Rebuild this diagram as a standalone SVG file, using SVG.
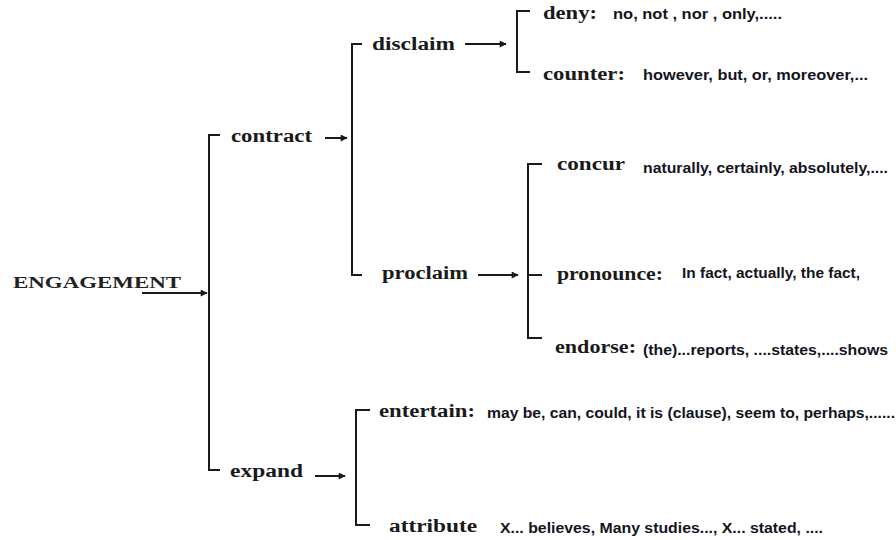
<svg xmlns="http://www.w3.org/2000/svg" width="896" height="540" viewBox="0 0 896 540">
<style>
.bg{fill:#fff}
.ln{fill:none;stroke:#1a1a1a;stroke-width:2}
.sf{font-family:"Liberation Serif","Times New Roman",serif;font-weight:bold;font-size:18px;fill:#1a1a1a}
.sfr{font-family:"Liberation Serif","Times New Roman",serif;font-weight:bold;font-size:17px;fill:#222}
.ss{font-family:"Liberation Sans",Arial,sans-serif;font-weight:bold;font-size:15px;fill:#14141e}
</style>
<defs>
<marker id="ah" viewBox="0 0 10 10" refX="9" refY="5" markerWidth="9" markerHeight="7" markerUnits="userSpaceOnUse" orient="auto">
<path d="M0,0 L10,5 L0,10 Z" fill="#1a1a1a"/>
</marker>
</defs>
<rect class="bg" width="896" height="540"/>
<g id="connectors">
<path class="ln" d="M142,293 H207" marker-end="url(#ah)"/>
<path class="ln" d="M220,135 H209 V470 H220"/>
<path class="ln" d="M325,138 H347" marker-end="url(#ah)"/>
<path class="ln" d="M362,44 H352 V275 H362"/>
<path class="ln" d="M465,44 H506" marker-end="url(#ah)"/>
<path class="ln" d="M530,11 H517 V72 H530"/>
<path class="ln" d="M478,275 H518" marker-end="url(#ah)"/>
<path class="ln" d="M542,164 H528 V338 H542 M528,275 H542"/>
<path class="ln" d="M315,476 H345" marker-end="url(#ah)"/>
<path class="ln" d="M370,410 H356 V525 H370"/>
</g>
<g id="engagement"><text class="sfr" x="13" y="288" textLength="168" lengthAdjust="spacingAndGlyphs">ENGAGEMENT</text></g>
<g id="contract"><text class="sf" x="231" y="142" textLength="81" lengthAdjust="spacingAndGlyphs">contract</text></g>
<g id="expand"><text class="sf" x="230" y="477" textLength="73" lengthAdjust="spacingAndGlyphs">expand</text></g>
<g id="disclaim"><text class="sf" x="372" y="50" textLength="83" lengthAdjust="spacingAndGlyphs">disclaim</text></g>
<g id="proclaim"><text class="sf" x="382" y="279" textLength="86" lengthAdjust="spacingAndGlyphs">proclaim</text></g>
<g id="deny">
<text class="sf" x="543" y="19" textLength="54" lengthAdjust="spacingAndGlyphs">deny:</text>
<text class="ss" x="613" y="19" textLength="169" lengthAdjust="spacingAndGlyphs">no, not , nor , only,.....</text>
</g>
<g id="counter">
<text class="sf" x="543" y="80" textLength="82" lengthAdjust="spacingAndGlyphs">counter:</text>
<text class="ss" x="643" y="80" textLength="225" lengthAdjust="spacingAndGlyphs">however, but, or, moreover,...</text>
</g>
<g id="concur">
<text class="sf" x="557" y="170" textLength="68" lengthAdjust="spacingAndGlyphs">concur</text>
<text class="ss" x="643" y="173" textLength="245" lengthAdjust="spacingAndGlyphs">naturally, certainly, absolutely,....</text>
</g>
<g id="pronounce">
<text class="sf" x="557" y="280" textLength="106" lengthAdjust="spacingAndGlyphs">pronounce:</text>
<text class="ss" x="682" y="278" textLength="178" lengthAdjust="spacingAndGlyphs">In fact, actually, the fact,</text>
</g>
<g id="endorse">
<text class="sf" x="555" y="353" textLength="81" lengthAdjust="spacingAndGlyphs">endorse:</text>
<text class="ss" x="643" y="355" textLength="245" lengthAdjust="spacingAndGlyphs">(the)...reports, ....states,....shows</text>
</g>
<g id="entertain">
<text class="sf" x="379" y="417" textLength="96" lengthAdjust="spacingAndGlyphs">entertain:</text>
<text class="ss" x="487" y="418" textLength="408" lengthAdjust="spacingAndGlyphs">may be, can, could, it is (clause), seem to, perhaps,......</text>
</g>
<g id="attribute">
<text class="sf" x="389" y="532" textLength="88" lengthAdjust="spacingAndGlyphs">attribute</text>
<text class="ss" x="500" y="533" textLength="323" lengthAdjust="spacingAndGlyphs">X... believes, Many studies..., X... stated, ....</text>
</g>
</svg>
